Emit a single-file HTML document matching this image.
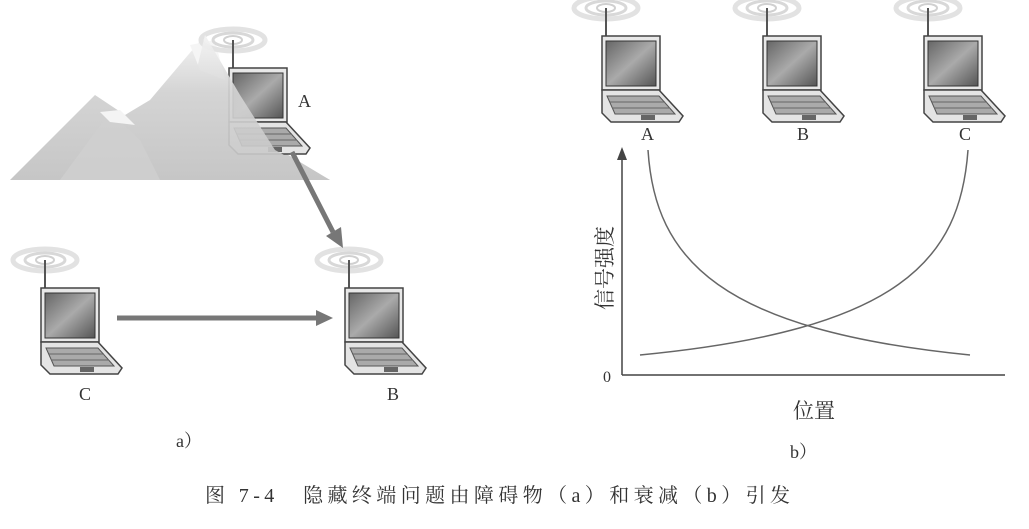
<!DOCTYPE html>
<html><head><meta charset="utf-8"><style>
body{margin:0;background:#fff}
svg{display:block}
text{font-family:"Liberation Serif","Noto Serif CJK SC",serif;fill:#333}
</style></head><body>
<svg width="1029" height="529" viewBox="0 0 1029 529" xmlns="http://www.w3.org/2000/svg">
<defs>
<linearGradient id="scr" x1="0" y1="0" x2="1" y2="1">
<stop offset="0" stop-color="#666"/><stop offset="0.5" stop-color="#aaa"/><stop offset="1" stop-color="#555"/></linearGradient>
<linearGradient id="mt" x1="0" y1="0" x2="0" y2="1">
<stop offset="0" stop-color="#f4f4f4"/><stop offset="0.4" stop-color="#d4d4d4"/><stop offset="1" stop-color="#c6c6c6"/></linearGradient>
<g id="lap">
<ellipse cx="3" cy="-30" rx="32" ry="11" fill="none" stroke="#e2e2e2" stroke-width="5"/>
<ellipse cx="3" cy="-30" rx="20" ry="7" fill="none" stroke="#d8d8d8" stroke-width="3"/>
<ellipse cx="3" cy="-30" rx="9" ry="4" fill="none" stroke="#d0d0d0" stroke-width="2"/>
<line x1="3" y1="-30" x2="3" y2="0" stroke="#555" stroke-width="2"/>
<rect x="-1" y="-2" width="58" height="54" fill="#e8e8e8" stroke="#444" stroke-width="1.5"/>
<rect x="3" y="3" width="50" height="45" fill="url(#scr)" stroke="#333"/>
<path d="M-1,52 L56,52 L80,78 L76,84 L8,84 L-1,75 Z" fill="#e4e4e4" stroke="#444" stroke-width="1.5"/>
<path d="M4,58 L56,58 L72,76 L12,76 Z" fill="#aaa" stroke="#555"/>
<line x1="7" y1="64" x2="62" y2="64" stroke="#666"/><line x1="9" y1="70" x2="67" y2="70" stroke="#666"/>
<rect x="38" y="77" width="14" height="5" fill="#666"/>
</g>
</defs>
<polygon points="10,180 95,95 125,115 150,100 205,35 240,95 280,150 330,180" fill="url(#mt)"/>
<polygon points="60,180 110,112 140,140 160,180" fill="#d0d0d0" opacity="0.8"/>
<polygon points="100,112 120,110 135,125 110,122" fill="#f4f4f4"/>
<polygon points="190,45 215,40 225,80 200,70" fill="#f5f5f5"/>
<use href="#lap" x="230" y="70"/>
<polygon points="170,180 205,35 240,95 275,150 330,180" fill="url(#mt)" opacity="0.9"/>
<use href="#lap" x="42" y="290"/>
<use href="#lap" x="346" y="290"/>
<use href="#lap" x="603" y="38"/>
<use href="#lap" x="764" y="38"/>
<use href="#lap" x="925" y="38"/>
<line x1="292" y1="152" x2="333" y2="232" stroke="#777" stroke-width="5"/>
<polygon points="326,236 343,248 341,227" fill="#777"/>
<line x1="117" y1="318" x2="318" y2="318" stroke="#777" stroke-width="5"/>
<polygon points="316,310 333,318 316,326" fill="#777"/>
<line x1="622" y1="375" x2="1005" y2="375" stroke="#444" stroke-width="1.5"/>
<line x1="622" y1="375" x2="622" y2="158" stroke="#444" stroke-width="1.5"/>
<polygon points="617,160 622,147 627,160" fill="#444"/>
<path d="M648,150 C655,260 720,330 970,355" fill="none" stroke="#666" stroke-width="1.5"/>
<path d="M968,150 C960,260 900,330 640,355" fill="none" stroke="#666" stroke-width="1.5"/>
<text x="298" y="107" font-size="18">A</text>
<text x="79" y="400" font-size="18">C</text>
<text x="387" y="400" font-size="18">B</text>
<text x="641" y="140" font-size="18">A</text>
<text x="797" y="140" font-size="18">B</text>
<text x="959" y="140" font-size="18">C</text>
<text x="603" y="382" font-size="16">0</text>
<text x="0" y="0" font-size="21" transform="translate(612,310) rotate(-90)">信号强度</text>
<text x="793" y="418" font-size="21">位置</text>
<text x="176" y="447" font-size="18">a）</text>
<text x="790" y="458" font-size="18">b）</text>
<text x="205" y="502" font-size="20" textLength="585" lengthAdjust="spacing">图 7-4　隐藏终端问题由障碍物（a）和衰减（b）引发</text>
</svg>
</body></html>
